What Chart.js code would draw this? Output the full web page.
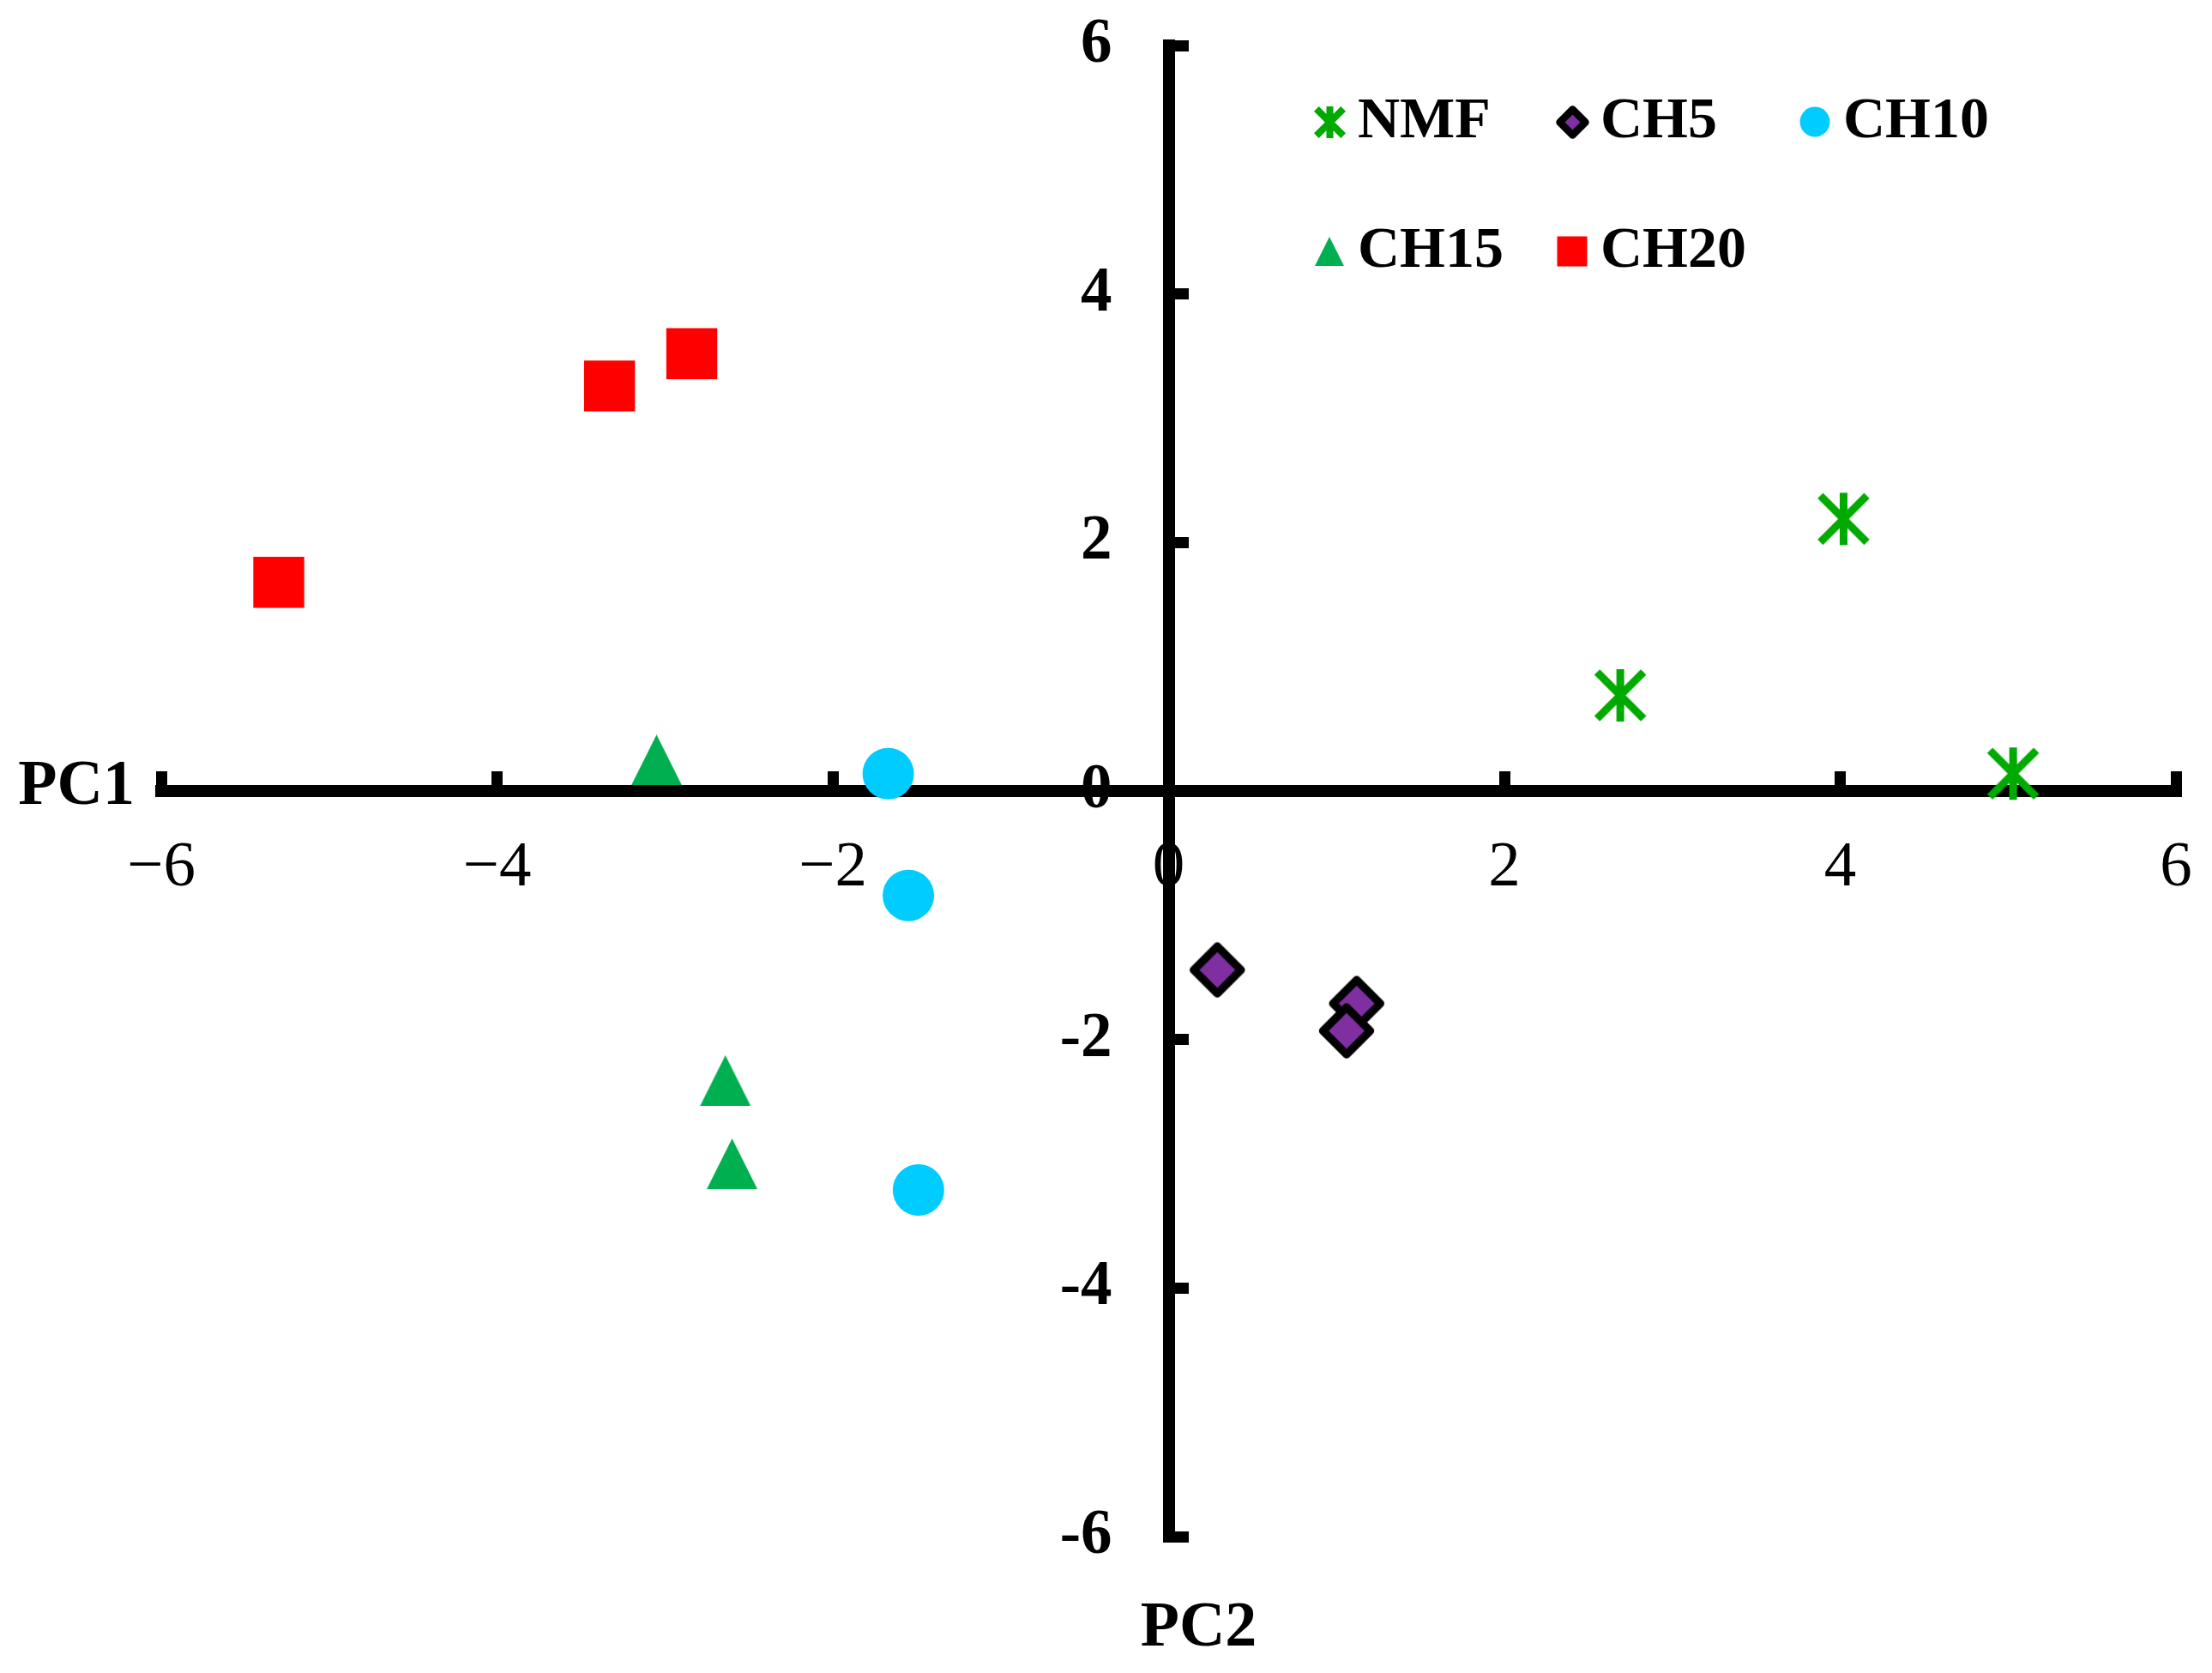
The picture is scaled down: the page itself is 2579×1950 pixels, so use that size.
<!DOCTYPE html>
<html>
<head>
<meta charset="utf-8">
<script src="https://cdn.jsdelivr.net/npm/chart.js@4.4.1/dist/chart.umd.min.js"></script>
<style>
html,body{margin:0;padding:0;background:#ffffff;}
#wrap{width:2579px;height:1950px;position:relative;}
</style>
</head>
<body>
<div id="wrap"><canvas id="c" width="2579" height="1950"></canvas></div>
<script>
// ---- data ----
const seriesNames = ['NMF', 'CH5', 'CH10', 'CH15', 'CH20'];
const nmfX  = [2.69, 4.02, 5.03];
const nmfY  = [0.77, 2.19, 0.14];
const ch5X  = [0.29, 1.12, 1.06];
const ch5Y  = [-1.44, -1.71, -1.93];
const ch10X = [-1.67, -1.55, -1.49];
const ch10Y = [0.14, -0.84, -3.21];
const ch15X = [-3.05, -2.64, -2.60];
const ch15Y = [0.25, -2.33, -3.00];
const ch20X = [-5.30, -3.33, -2.84];
const ch20Y = [1.68, 3.26, 3.52];
const xTickValues = [-6, -4, -2, 0, 2, 4, 6];
const xTickLabels = ['\u22126', '\u22124', '\u22122', '0', '2', '4', '6'];
const yTickValues = [-6, -4, -2, 0, 2, 4, 6];
const yTickLabels = ['-6', '-4', '-2', '0', '2', '4', '6'];
const xAxisTitle = 'PC1';
const yAxisTitle = 'PC2';

// ---- styles ----
const SERIF = "'Liberation Serif', 'Times New Roman', serif";
const COLORS = {NMF: '#00AA00', CH5: '#7F2FA0', CH10: '#00CCFF', CH15: '#00B050', CH20: '#FF0000'};
const Y_LABEL_GAP = 66; // distance from y-axis centre to right edge of its tick labels

function pts(xs, ys) { return xs.map((x, i) => ({x: x, y: ys[i]})); }

function makeNMF(w, h, lw, color) {
  const c = document.createElement('canvas');
  c.width = w; c.height = h;
  const g = c.getContext('2d');
  g.strokeStyle = color; g.lineWidth = lw; g.lineCap = 'butt';
  const p = lw * 0.6;
  g.beginPath();
  g.moveTo(p, p); g.lineTo(w - p, h - p);
  g.moveTo(w - p, p); g.lineTo(p, h - p);
  g.moveTo(w / 2, 2); g.lineTo(w / 2, h - 2);
  g.stroke();
  return c;
}
function makeTri(w, h, color) {
  const c = document.createElement('canvas');
  c.width = w; c.height = h;
  const g = c.getContext('2d');
  g.fillStyle = color;
  g.beginPath();
  g.moveTo(w / 2, 0); g.lineTo(w, h); g.lineTo(0, h); g.closePath();
  g.fill();
  return c;
}
function makeDiamond(r, lw, fill, stroke) {
  const size = Math.ceil(2 * r + lw * 1.5 + 2);
  const c = document.createElement('canvas');
  c.width = size; c.height = size;
  const g = c.getContext('2d');
  const m = size / 2;
  g.beginPath();
  g.moveTo(m - r, m); g.lineTo(m, m - r); g.lineTo(m + r, m); g.lineTo(m, m + r); g.closePath();
  g.fillStyle = fill; g.fill();
  g.lineWidth = lw; g.strokeStyle = stroke; g.lineJoin = 'round'; g.stroke();
  return c;
}
const nmfImg = makeNMF(65, 65, 9, COLORS.NMF);
const triImg = makeTri(59, 59, COLORS.CH15);
const diamondImg = makeDiamond(27.5, 9.5, COLORS.CH5, '#000000');
const nmfLegendImg = makeNMF(41, 41, 8, COLORS.NMF);
const triLegendImg = makeTri(34, 34, COLORS.CH15);
const diamondLegendImg = makeDiamond(15, 8.5, COLORS.CH5, '#000000');

const legendMarkers = [
  {img: nmfLegendImg},
  {img: diamondLegendImg},
  {shape: 'circle', r: 17.5, fill: COLORS.CH10},
  {img: triLegendImg},
  {shape: 'square', s: 35, fill: COLORS.CH20}
];

const legendPlugin = {
  id: 'fixedLegend',
  afterDraw(chart) {
    const ctx = chart.ctx;
    ctx.save();
    chart.data.datasets.forEach((ds, i) => {
      const col = i % 3, row = Math.floor(i / 3);
      const mx = 1550 + col * 283;
      const my = 142 + row * 151;
      const m = legendMarkers[i];
      if (m.img) {
        ctx.drawImage(m.img, Math.round(mx - m.img.width / 2), Math.round(my - m.img.height / 2));
      } else if (m.shape === 'circle') {
        ctx.beginPath(); ctx.arc(mx, my, m.r, 0, Math.PI * 2);
        ctx.fillStyle = m.fill; ctx.fill();
      } else if (m.shape === 'square') {
        ctx.fillStyle = m.fill; ctx.fillRect(mx - m.s / 2, my - m.s / 2, m.s, m.s);
      }
      ctx.fillStyle = '#000';
      ctx.font = 'bold 68px ' + SERIF;
      ctx.textAlign = 'left';
      ctx.textBaseline = 'middle';
      ctx.fillText(ds.label, mx + 33, my);
    });
    ctx.restore();
  }
};

const axisTitlePlugin = {
  id: 'axisTitles',
  afterDraw(chart) {
    const ctx = chart.ctx;
    const xs = chart.scales.x, ys = chart.scales.y, ca = chart.chartArea;
    ctx.save();
    ctx.fillStyle = '#000';
    ctx.font = 'bold 74px ' + SERIF;
    ctx.textAlign = 'right';
    ctx.textBaseline = 'middle';
    ctx.fillText(xAxisTitle, ca.left - 31, ys.getPixelForValue(0) - 4);
    ctx.textAlign = 'center';
    ctx.textBaseline = 'alphabetic';
    ctx.fillText(yAxisTitle, xs.getPixelForValue(0) + 35, ca.bottom + 127);
    ctx.restore();
  }
};

// y-axis tick labels of an axis positioned at x=0 are anchored on the axis line itself;
// move them left of the line so they sit beside it as in the reference.
const yLabelShiftPlugin = {
  id: 'yLabelShift',
  beforeDraw(chart) {
    const ys = chart.scales.y;
    const items = ys.getLabelItems(chart.chartArea);
    if (items && !items._shifted) {
      items.forEach(it => { it.options.translation[0] -= Y_LABEL_GAP; });
      items._shifted = true;
    }
  }
};

function zeroFit(isX) {
  return (s) => {
    if (isX) s.height = 0; else s.width = 0;
    s.paddingTop = 0; s.paddingBottom = 0; s.paddingLeft = 0; s.paddingRight = 0;
  };
}

new Chart(document.getElementById('c'), {
  type: 'scatter',
  data: {
    datasets: [
      {label: seriesNames[0], data: pts(nmfX, nmfY), pointStyle: nmfImg, pointRadius: 32, backgroundColor: COLORS.NMF, borderColor: COLORS.NMF},
      {label: seriesNames[1], data: pts(ch5X, ch5Y), pointStyle: diamondImg, pointRadius: 33, backgroundColor: COLORS.CH5, borderColor: '#000000'},
      {label: seriesNames[2], data: pts(ch10X, ch10Y), pointStyle: 'circle', pointRadius: 30, backgroundColor: COLORS.CH10, borderColor: COLORS.CH10, borderWidth: 0},
      {label: seriesNames[3], data: pts(ch15X, ch15Y), pointStyle: triImg, pointRadius: 30, backgroundColor: COLORS.CH15, borderColor: COLORS.CH15},
      {label: seriesNames[4], data: pts(ch20X, ch20Y), pointStyle: 'rect', pointRadius: 42, backgroundColor: COLORS.CH20, borderColor: COLORS.CH20, borderWidth: 0}
    ]
  },
  options: {
    responsive: false,
    devicePixelRatio: 1,
    animation: false,
    events: [],
    clip: false,
    layout: {padding: {left: 188, right: 41, top: 53, bottom: 159}},
    plugins: {legend: {display: false}, tooltip: {enabled: false}, title: {display: false}},
    scales: {
      x: {
        type: 'linear',
        position: {y: 0},
        min: -6, max: 6,
        afterBuildTicks: (s) => { s.ticks = xTickValues.map(v => ({value: v})); },
        afterFit: zeroFit(true),
        grid: {drawOnChartArea: false, drawTicks: true, tickLength: -30, tickWidth: 13, tickColor: '#000000'},
        border: {display: true, width: 14, color: '#000000'},
        ticks: {
          padding: 75, color: '#000000', maxRotation: 0, autoSkip: false,
          font: {family: SERIF, size: 75, weight: 'normal'},
          callback: (v) => xTickLabels[xTickValues.indexOf(v)]
        }
      },
      y: {
        type: 'linear',
        position: {x: 0},
        min: -6, max: 6,
        afterBuildTicks: (s) => { s.ticks = yTickValues.map(v => ({value: v})); },
        afterFit: zeroFit(false),
        grid: {drawOnChartArea: false, drawTicks: true, tickLength: -30, tickWidth: 13, tickColor: '#000000'},
        border: {display: true, width: 14, color: '#000000'},
        ticks: {
          padding: 0, color: '#000000', autoSkip: false,
          font: {family: SERIF, size: 73, weight: 'bold'},
          callback: (v) => yTickLabels[yTickValues.indexOf(v)]
        }
      }
    }
  },
  plugins: [yLabelShiftPlugin, legendPlugin, axisTitlePlugin]
});
</script>
</body>
</html>
